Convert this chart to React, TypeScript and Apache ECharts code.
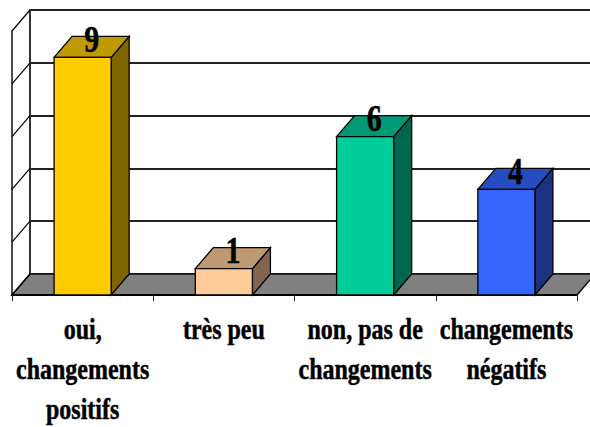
import React, { useEffect, useRef } from "react";
import * as echarts from "echarts";

const categories = ["oui,\nchangements\npositifs", "très peu", "non, pas de\nchangements", "changements\nnégatifs"];
const values = [9, 1, 6, 4];
const frontColors = ["#ffcc00", "#ffcc99", "#00cc99", "#3366ff"];
const topColors = ["#bf9900", "#bf9973", "#009973", "#264dbf"];
const sideColors = ["#806600", "#806650", "#00664d", "#1a3380"];
const wallTicks = [0, 2, 4, 6, 8, 10];
const DX = 18;
const DY = 21;
const SERIF = '"Liberation Serif", serif';
const edge = { stroke: "#000", lineWidth: 1.3 };

export default function App() {
  const ref = useRef<HTMLDivElement>(null);
  useEffect(() => {
    const chart = echarts.init(ref.current!, undefined, { renderer: "svg" });
    chart.setOption({
      animation: false,
      backgroundColor: "#fff",
      grid: [
        { left: 12, top: 31, width: 565, height: 264, outerBoundsMode: "none" },
        { left: 30, top: 10, width: 565, height: 264, outerBoundsMode: "none" },
      ],
      xAxis: [
        {
          type: "category", gridIndex: 0, data: categories, z: 4,
          axisLine: { show: true, lineStyle: { color: "#000", width: 2 } },
          axisTick: { show: true, length: 6, alignWithLabel: false, lineStyle: { color: "#222", width: 1 } },
          axisLabel: { show: false },
        },
        { type: "category", gridIndex: 1, data: categories, show: false },
      ],
      yAxis: [
        {
          type: "value", gridIndex: 0, min: 0, max: 10, interval: 2,
          axisLine: { show: true, lineStyle: { color: "#111", width: 1.5 } },
          axisTick: { show: false }, axisLabel: { show: false }, splitLine: { show: false },
        },
        {
          type: "value", gridIndex: 1, min: 0, max: 10, interval: 2,
          axisLine: { show: true, lineStyle: { color: "#333", width: 2 } },
          axisTick: { show: false }, axisLabel: { show: false },
          splitLine: { show: true, lineStyle: { color: "#222", width: 2 } },
        },
      ],
      series: [
        {
          type: "custom", name: "floor", xAxisIndex: 0, yAxisIndex: 0, z: 1, clip: false, silent: true,
          data: [[0, 0]],
          renderItem: (params: any, api: any) => {
            const cs = params.coordSys;
            const y0 = api.coord([0, 0])[1];
            const l = cs.x, r = cs.x + cs.width;
            return {
              type: "polygon",
              shape: { points: [[l, y0], [r, y0], [r + DX, y0 - DY], [l + DX, y0 - DY]] },
              style: { fill: "#808080", stroke: "#111", lineWidth: 1.5 },
            };
          },
        },
        {
          type: "custom", name: "wall", xAxisIndex: 0, yAxisIndex: 0, z: 2, clip: false, silent: true,
          data: wallTicks.map((t) => [0, t]),
          renderItem: (params: any, api: any) => {
            const cs = params.coordSys;
            const y = api.coord([0, api.value(1)])[1];
            return {
              type: "line",
              shape: { x1: cs.x, y1: y, x2: cs.x + DX, y2: y - DY },
              style: { stroke: "#000", lineWidth: 1.2 },
            };
          },
        },
        {
          type: "custom", name: "categoryLabels", xAxisIndex: 0, yAxisIndex: 0, z: 6, clip: false, silent: true,
          encode: { x: 0, y: 1 },
          data: categories.map((_, i) => [i, 0]),
          renderItem: (params: any, api: any) => {
            const i = params.dataIndex;
            const [cx, y0] = api.coord([i, 0]);
            return {
              type: "group",
              children: categories[i].split("\n").map((line, k) => ({
                type: "text", x: cx, y: y0 + 34 + 40 * k, scaleY: 1.25,
                style: { text: line, fill: "#000", stroke: "#000", lineWidth: 0.4, font: `bold 24px ${SERIF}`, align: "center", verticalAlign: "middle" },
              })),
            };
          },
        },
        {
          type: "custom", name: "bars", xAxisIndex: 0, yAxisIndex: 0, z: 5, clip: false, silent: true,
          encode: { x: 0, y: 1 },
          data: values.map((v, i) => [i, v]),
          renderItem: (params: any, api: any) => {
            const i = params.dataIndex;
            const v = api.value(1);
            const [cx, yTop] = api.coord([i, v]);
            const y0 = api.coord([i, 0])[1];
            const w = api.size([1, 0])[0] * 0.404;
            const l = cx - w / 2;
            const r = cx + w / 2;
            return {
              type: "group",
              children: [
                { type: "polygon", shape: { points: [[r, y0], [r + DX, y0 - DY], [r + DX, yTop - DY], [r, yTop]] }, style: { fill: sideColors[i], ...edge } },
                { type: "polygon", shape: { points: [[l, yTop], [r, yTop], [r + DX, yTop - DY], [l + DX, yTop - DY]] }, style: { fill: topColors[i], ...edge } },
                { type: "rect", shape: { x: l, y: yTop, width: w, height: y0 - yTop }, style: { fill: frontColors[i], ...edge } },
                {
                  type: "text", x: cx + 9, y: yTop - 18, scaleY: 1.25,
                  style: { text: String(v), fill: "#000", stroke: "#000", lineWidth: 0.4, font: `bold 30px ${SERIF}`, align: "center", verticalAlign: "middle" },
                },
              ],
            };
          },
        },
      ],
    });
    return () => chart.dispose();
  }, []);
  return <div ref={ref} style={{ position: "fixed", left: 0, top: 0, width: 590, height: 427 }} />;
}
